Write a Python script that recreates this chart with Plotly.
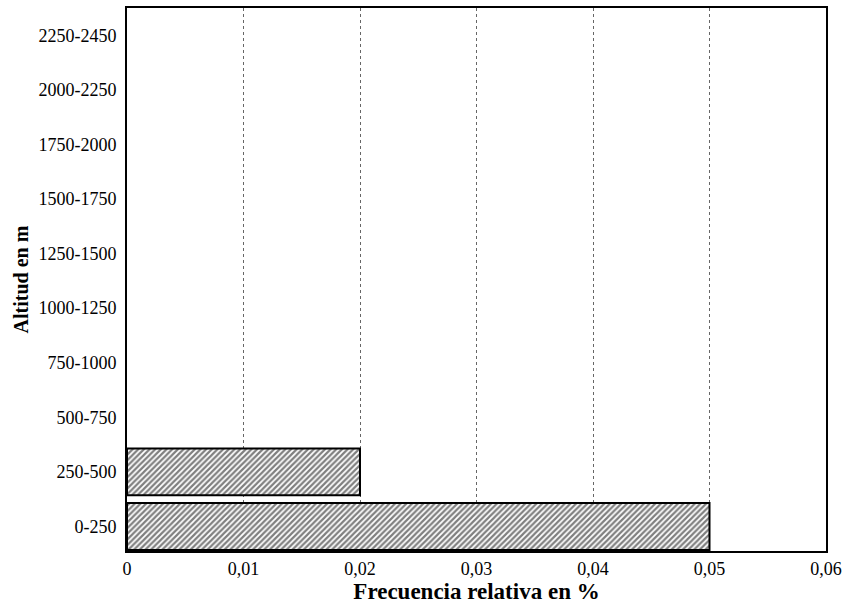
import plotly.graph_objects as go

categorias = ["0-250", "250-500", "500-750", "750-1000", "1000-1250", "1250-1500",
              "1500-1750", "1750-2000", "2000-2250", "2250-2450"]
frecuencias = [0.05, 0.02, None, None, None, None, None, None, None, None]
x_ticks = [0, 0.01, 0.02, 0.03, 0.04, 0.05, 0.06]
x_labels = ["0", "0,01", "0,02", "0,03", "0,04", "0,05", "0,06"]

fnt = "Liberation Serif, Times New Roman, serif"

fig = go.Figure()
fig.add_trace(go.Bar(
    y=list(range(len(categorias))),
    x=frecuencias,
    orientation="h",
    width=0.86,
    marker=dict(
        color="white",
        line=dict(color="black", width=2),
        pattern=dict(shape="/", fgcolor="black", bgcolor="white", size=4, solidity=0.55),
    ),
    hoverinfo="skip",
))

fig.update_layout(
    width=843, height=608,
    margin=dict(l=127, r=17, t=8, b=57, autoexpand=False),
    plot_bgcolor="white", paper_bgcolor="white",
    showlegend=False,
    font=dict(family=fnt, color="black", size=18),
)
fig.update_xaxes(
    range=[0, 0.06], tickvals=x_ticks, ticktext=x_labels,
    showgrid=True, gridcolor="#666", griddash="dot", gridwidth=1,
    zeroline=False, showline=True, linecolor="black", linewidth=2, mirror=True,
    automargin=False,
    ticks="", ticklabeloverflow="allow", tickfont=dict(family=fnt, size=18),
    title=dict(text="<b>Frecuencia relativa en %</b>", font=dict(family=fnt, size=23), standoff=3),
)
fig.update_yaxes(
    range=[-0.45, 9.5], tickvals=list(range(len(categorias))), ticktext=categorias,
    showgrid=False, zeroline=False, showline=True, linecolor="black", linewidth=2, mirror=True,
    automargin=False,
    ticks="", ticklabelstandoff=5, tickfont=dict(family=fnt, size=18),
    title=dict(text="<b>Altitud en m</b>", font=dict(family=fnt, size=20), standoff=4),
)
fig.write_html("out.html", config={"displayModeBar": False},
               post_script="document.body.style.margin='0px';document.body.style.overflow='hidden';")
